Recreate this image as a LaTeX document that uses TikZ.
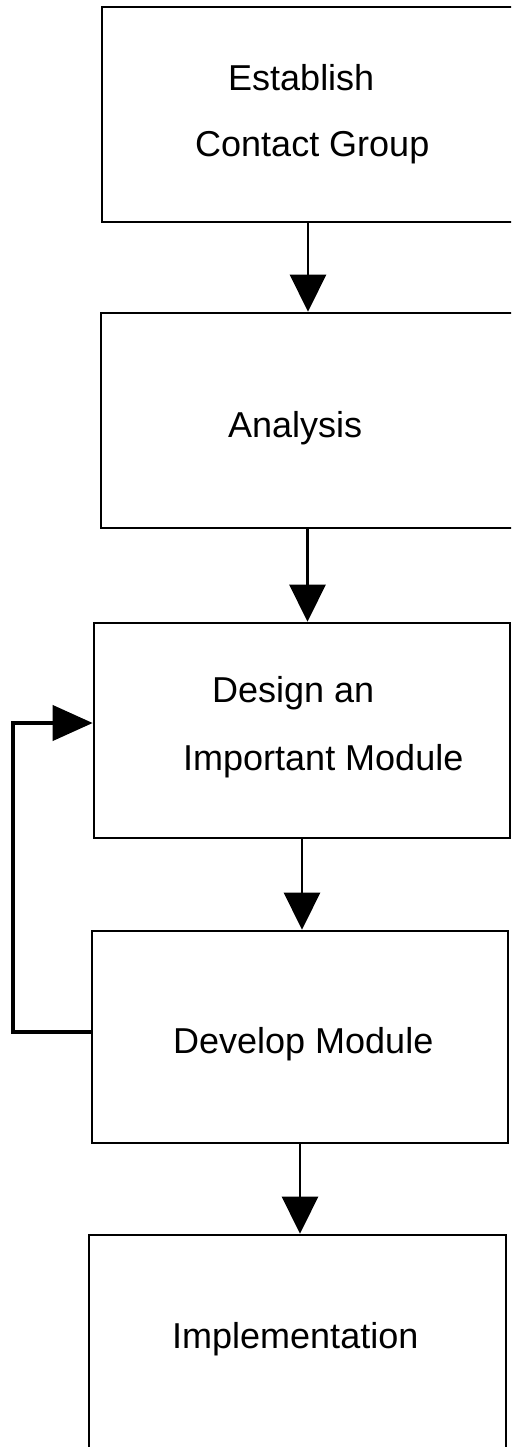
\documentclass[tikz,border=0pt]{standalone}
\usepackage{fontspec}
\setmainfont{Liberation Sans}
\usetikzlibrary{arrows.meta}
\begin{document}
\begin{tikzpicture}[x=1pt,y=-1pt,
  box/.style={draw=black,line width=2.6pt,rectangle,inner sep=0pt},
  lbl/.style={anchor=base west,inner sep=0pt,font=\fontsize{36}{43}\selectfont},
  arr/.style={line width=2.6pt,-{Triangle[width=36pt,length=37pt]}},
  fb/.style={line width=4pt,-{Triangle[width=35pt,length=40pt]}}]
\useasboundingbox (0,0) rectangle (511,1447);
\clip (0,0) rectangle (511,1447);
\fill[white] (0,0) rectangle (511,1447);
% boxes
\node[box,minimum width=412pt,minimum height=215pt] (b1) at (308,114.5) {};
\node[box,minimum width=413pt,minimum height=215pt] (b2) at (307.5,420.5) {};
\node[box,minimum width=416pt,minimum height=215pt] (b3) at (302,730.5) {};
\node[box,minimum width=416pt,minimum height=212pt] (b4) at (300,1037) {};
\node[box,minimum width=417pt,minimum height=225pt] (b5) at (297.5,1347.5) {};
% labels
\node[lbl] (t1a) at (228,91) {Establish};
\node[lbl] (t1b) at (195,157) {Contact Group};
\node[lbl] (t2) at (228,437.7) {Analysis};
\node[lbl] (t3a) at (212,702) {Design an};
\node[lbl] (t3b) at (183,770) {Important Module};
\node[lbl] (t4) at (173,1053) {Develop Module};
\node[lbl] (t5) at (172,1348) {Implementation};
% connectors
\draw[arr] (b1.south) -- (b1.south |- b2.north);
\draw[arr] (b2.south) -- (b2.south |- b3.north);
\draw[arr] (b3.south) -- (b3.south |- b4.north);
\draw[arr] (b4.south) -- (b4.south |- b5.north);
\coordinate (c) at (13,1032);
\draw[fb,line join=miter] ([yshift=5pt]b4.west) -- (c) |- ([yshift=7.5pt]b3.west);
\end{tikzpicture}
\end{document}
